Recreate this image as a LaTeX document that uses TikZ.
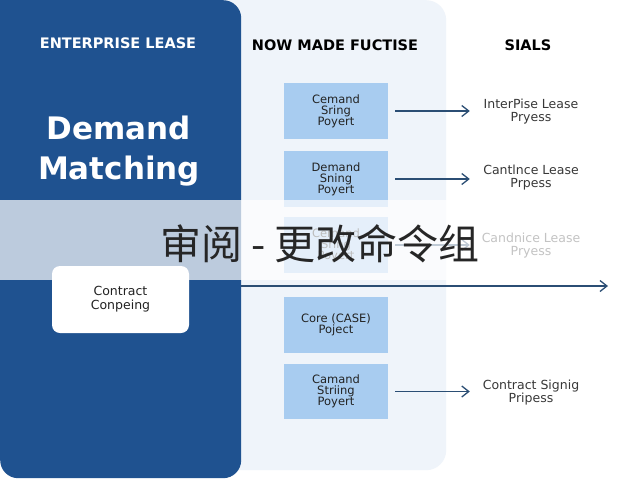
\documentclass[tikz,border=0pt]{standalone}
\usepackage{fontspec}
\setmainfont{DejaVu Sans}
\newfontfamily\cjk{Noto Sans CJK SC}
\usetikzlibrary{arrows.meta}
\definecolor{pblue}{HTML}{1F5290}
\definecolor{lightpanel}{HTML}{EFF4FA}
\definecolor{boxblue}{HTML}{A8CCF0}
\definecolor{arrblue}{HTML}{2B4E74}
\definecolor{txt}{HTML}{222222}
\tikzset{
  panel/.style={inner sep=0pt, anchor=north west},
  header/.style={font=\bfseries\fontsize{14.5}{16}\selectfont},
  midbox/.style={fill=boxblue, minimum width=104pt, minimum height=56pt, inner sep=0pt, align=center, text=txt, font=\fontsize{11.5}{11}\selectfont},
  rlabel/.style={minimum width=110pt, inner sep=0pt, align=center, text=txt!90, font=\fontsize{12.5}{13}\selectfont},
  arr/.style={draw=arrblue, line width=1.3pt, -{Straight Barb[length=7pt,width=11pt]}},
}
\begin{document}
\begin{tikzpicture}[x=1pt,y=-1pt]
\useasboundingbox (0,0) rectangle (640,480);
\fill[white] (0,0) rectangle (640,480);
% panels
\node[panel, fill=lightpanel, rounded corners=20pt, minimum width=246pt, minimum height=470pt] (mp) at (200,0) {};
\node[panel, fill=pblue, rounded corners=18pt, minimum width=241pt, minimum height=478pt] (lp) at (0,0) {};
\fill[pblue] (0,0) rectangle (30,30);
% headers
\node[header, text=white] (h1) at (118,43) {ENTERPRISE LEASE};
\node[header, text=black] (h2) at (335,45) {NOW MADE FUCTISE};
\node[header, text=black] (h3) at (528,45) {SIALS};
% title
\node[text=white, font=\bfseries\fontsize{31}{40}\selectfont, align=center] (title) at (119,151) {Demand\\Matching};
% middle boxes
\node[midbox] (b1) at (336,111) {Cemand\\Sring\\Poyert};
\node[midbox] (b2) at (336,179) {Demand\\Sning\\Poyert};
\node[midbox] (b3) at (336,245) {Cemand\\Sring\\Poyert};
\node[midbox] (b4) at (336,325) {Core (CASE)\\Poject};
\node[midbox, minimum height=55pt] (b5) at (336,391.5) {Camand\\Striing\\Poyert};
% right labels
\node[rlabel] (l1) at (531,112) {InterPise Lease\\Pryess};
\node[rlabel] (l2) at (531,178) {Cantlnce Lease\\Prpess};
\node[rlabel] (l3) at (531,246) {Candnice Lease\\Pryess};
\node[rlabel] (l5) at (531,393) {Contract Signig\\Pripess};
% arrows
\draw[arr, shorten <=7pt, shorten >=6pt] (b1.east) -- (b1.east -| l1.west);
\draw[arr, shorten <=7pt, shorten >=6pt] (b2.east) -- (b2.east -| l2.west);
\draw[arr, shorten <=7pt, shorten >=6pt] (b3.east) -- (b3.east -| l3.west);
\draw[arr, shorten <=7pt, shorten >=6pt] (b5.east) -- (b5.east -| l5.west);
% contract box
\node[fill=white, rounded corners=8pt, minimum width=137pt, minimum height=67pt, inner sep=0pt, align=center, text=txt, font=\fontsize{12.5}{14}\selectfont] (cb) at (120.5,299.5) {Contract\\Conpeing};
% long arrow
\coordinate (ls) at (241,286);
\coordinate (le) at (608,286);
\draw[arr] (ls) -- (le);
% overlay band
\fill[white, opacity=0.7] (0,200) rectangle (640,280);
\node[font=\cjk\fontsize{41}{41}\selectfont, text=black!85] (zh) at (320,244) {审阅 - 更改命令组};
\end{tikzpicture}
\end{document}
